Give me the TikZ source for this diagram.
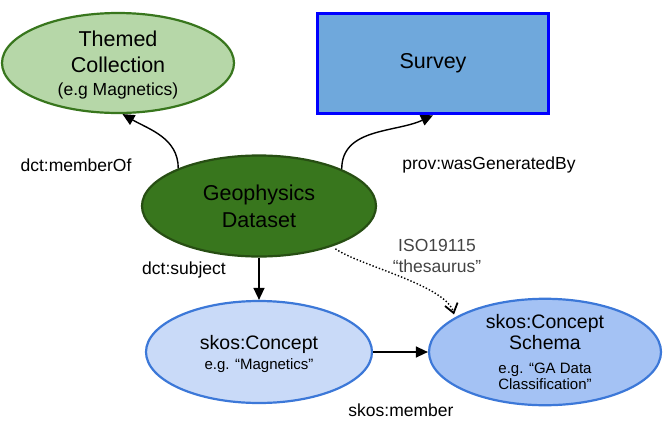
\documentclass[tikz,border=0pt]{standalone}
\usepackage{fontspec}
\setmainfont{Liberation Sans}
\usetikzlibrary{arrows.meta,positioning,shapes.geometric}
\definecolor{themfill}{HTML}{B6D7A8}
\definecolor{themline}{HTML}{38761D}
\definecolor{geofill}{HTML}{38761D}
\definecolor{geoline}{HTML}{274E13}
\definecolor{survfill}{HTML}{6FA8DC}
\definecolor{conline}{HTML}{3C78D8}
\definecolor{confill}{HTML}{C9DAF8}
\definecolor{schfill}{HTML}{A4C2F4}
\definecolor{isogray}{HTML}{434343}
\newcommand{\bigtxt}{\fontsize{21.5}{25.5}\selectfont}
\newcommand{\midtxt}{\fontsize{19.5}{23}\selectfont}
\newcommand{\lbltxt}{\fontsize{17.5}{21.5}\selectfont}
\newcommand{\smltxt}{\fontsize{15}{18.5}\selectfont}

\begin{document}
\begin{tikzpicture}[x=1pt,y=-1pt,>={Triangle[length=12pt,width=11pt]},
 el/.style={draw,ellipse,inner sep=0pt,align=center,line width=2.2pt},
 lbl/.style={font=\lbltxt,inner sep=0pt,align=center},
 arr/.style={->,line width=1.4pt}]
\useasboundingbox (0,0) rectangle (667,424);
\node[el,fill=themfill,draw=themline,minimum width=232,minimum height=100,font=\bigtxt,text depth=-1pt] (them) at (118,63)
 {Themed\\[1pt]Collection\\[-3pt]{\lbltxt (e.g Magnetics)}};
\node[draw=blue,fill=survfill,line width=3.5pt,minimum width=231,minimum height=100,inner sep=0pt,font=\bigtxt] (surv) at (433,63.5) {Survey};
\node[el,fill=geofill,draw=geoline,minimum width=234,minimum height=101,font=\bigtxt] (geo) at (259,206)
 {Geophysics\\[1.5pt]Dataset};
\node[el,fill=confill,draw=conline,minimum width=226,minimum height=102,font=\midtxt,text depth=0pt] (con) at (259,352)
 {skos:Concept\\[-3pt]{\smltxt e.g. “Magnetics”}};
\node[el,fill=schfill,draw=conline,minimum width=232,minimum height=92,font=\midtxt] (sch) at (545,352)
 {skos:Concept\\[-2pt]Schema\\[1pt]{\smltxt e.g. “GA Data}\\[-7pt]{\smltxt Classification”}};
% relations
\draw[arr] (geo.155) to[out=90,in=-30] (them.275);
\draw[arr] (geo.24) to[out=90,in=205] (surv.south);
\draw[arr] (geo.south) -- (con.north);
\draw[arr] (con.east) -- (sch.west);
\draw[line width=1.4pt,dotted,shorten <=4pt,shorten >=3pt,-{Straight Barb[length=9pt,width=13pt,line width=1.8pt]}] (geo.-29) to[out=-35,in=105,looseness=0.6] (sch.159);
\node[lbl] (l1) at (76,165) {dct:memberOf};
\node[lbl] (l2) at (489,165) {prov:wasGeneratedBy};
\node[lbl] (l3) at (184,270) {dct:subject};
\node[lbl,text=isogray] (l4) at (437,256) {ISO19115\\“thesaurus”};
\node[lbl] (l5) at (401,410) {skos:member};
\end{tikzpicture}
\end{document}
